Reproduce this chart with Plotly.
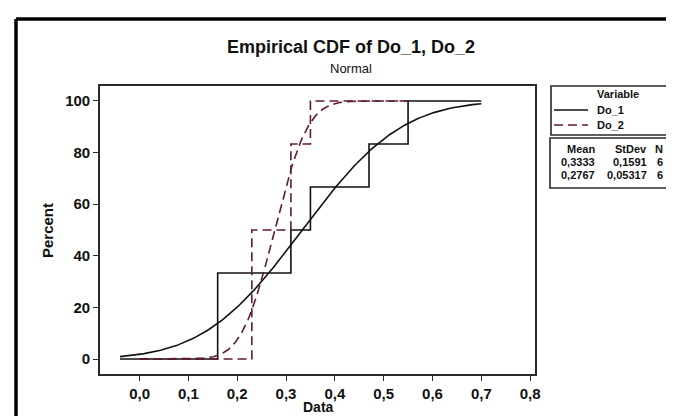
import math
import plotly.graph_objects as go

# ---------------- data ----------------
series_names = ["Do_1", "Do_2"]
do_1 = [0.16, 0.16, 0.31, 0.35, 0.47, 0.55]
do_2 = [0.23, 0.23, 0.23, 0.31, 0.31, 0.35]
line_extent_1 = [-0.04, 0.70]
line_extent_2 = [0.0, 0.55]

x_tick_vals = [0.0, 0.1, 0.2, 0.3, 0.4, 0.5, 0.6, 0.7, 0.8]
x_tick_text = ["0,0", "0,1", "0,2", "0,3", "0,4", "0,5", "0,6", "0,7", "0,8"]
y_tick_vals = [0, 20, 40, 60, 80, 100]
y_tick_text = ["0", "20", "40", "60", "80", "100"]

# ---------------- style ----------------
FONT = "Liberation Sans, Arial, sans-serif"
C1 = "#111111"
C2 = "#5e1c2c"
AX = "#2a2a2a"

W, H = 674, 416
L, R, T, B = 92, 527, 78, 366  # plot area pixels


def px(x):
    return (x - L) / (R - L)


def py(y):
    return 1 - (y - T) / (B - T)


def ecdf_xy(data, lo, hi):
    n = len(data)
    xs, ys = [lo], [0.0]
    for v in sorted(set(data)):
        xs.append(v)
        ys.append(100.0 * sum(d <= v for d in data) / n)
    xs.append(hi)
    ys.append(100.0)
    return xs, ys


def mean_sd(data):
    m = sum(data) / len(data)
    s = math.sqrt(sum((d - m) ** 2 for d in data) / (len(data) - 1))
    return m, s


def normal_cdf_xy(data, lo, hi, n=241):
    m, s = mean_sd(data)
    xs = [lo + (hi - lo) * i / (n - 1) for i in range(n)]
    ys = [50.0 * (1 + math.erf((x - m) / (s * math.sqrt(2)))) for x in xs]
    return xs, ys


def fmt(v):
    return f"{v:.4g}".replace(".", ",")


fig = go.Figure()
dash2 = "9px,5px"
for data, ext, col, dash, name in [
    (do_1, line_extent_1, C1, "solid", series_names[0]),
    (do_2, line_extent_2, C2, dash2, series_names[1]),
]:
    fx, fy = normal_cdf_xy(data, ext[0], ext[1])
    fig.add_trace(go.Scatter(x=fx, y=fy, mode="lines", name=name,
                             line=dict(color=col, width=1.6, dash=dash),
                             showlegend=False, hoverinfo="skip"))
    sx, sy = ecdf_xy(data, ext[0], ext[1])
    fig.add_trace(go.Scatter(x=sx, y=sy, mode="lines", name=name,
                             line=dict(color=col, width=1.6, dash=dash, shape="hv"),
                             showlegend=False, hoverinfo="skip"))

axis_common = dict(showgrid=False, zeroline=False, showline=True, linecolor=AX,
                   linewidth=1.6, mirror=True, ticks="outside", ticklen=5,
                   tickwidth=1.4, tickcolor=AX,
                   tickfont=dict(family=FONT, size=15, color="#111", weight="bold"))

fig.update_layout(
    width=W, height=H,
    margin=dict(l=L, r=W - R, t=T, b=H - B, autoexpand=False),
    paper_bgcolor="white", plot_bgcolor="white",
    xaxis=dict(range=[-0.081, 0.810], tickvals=x_tick_vals, ticktext=x_tick_text,
               **axis_common),
    yaxis=dict(range=[-5.8, 105.8], tickvals=y_tick_vals, ticktext=y_tick_text,
               **axis_common),
    showlegend=False,
)

ann = []


def text(x, y, s, size=11, bold=True, xanchor="center", angle=0, color="#111"):
    ann.append(dict(x=px(x), y=py(y), xref="paper", yref="paper", text=s,
                    showarrow=False, xanchor=xanchor, yanchor="middle",
                    textangle=angle,
                    font=dict(family=FONT, size=size, color=color,
                              weight="bold" if bold else "normal")))


# titles
text(343, 39, "Empirical CDF of Do_1, Do_2", size=18)
text(343, 60, "Normal", size=13, bold=False)
text(310, 399, "Data", size=14)
text(39, 223, "Percent", size=15, angle=-90)

# legend: Variable box
text(610, 86, "Variable", size=11)
text(587, 102, series_names[0], size=11, xanchor="left")
text(587, 117, series_names[1], size=11, xanchor="left")

# stats box
m1, s1 = mean_sd(do_1)
m2, s2 = mean_sd(do_2)
text(589, 141, "Mean", size=11, xanchor="right")
text(641, 141, "StDev", size=11, xanchor="right")
text(657, 141, "N", size=11, xanchor="right")
for yy, (m, s, n) in zip([154, 167], [(m1, s1, len(do_1)), (m2, s2, len(do_2))]):
    text(589, yy, fmt(m), size=11, xanchor="right")
    text(641, yy, fmt(s), size=11, xanchor="right")
    text(657, yy, str(n), size=11, xanchor="right")

fig.update_layout(annotations=ann)

shapes = []
# legend boxes
shapes.append(dict(type="rect", xref="paper", yref="paper", x0=px(543), x1=px(665),
                   y0=py(127), y1=py(78), line=dict(color=AX, width=1.6)))
shapes.append(dict(type="rect", xref="paper", yref="paper", x0=px(542), x1=px(666),
                   y0=py(180), y1=py(130), line=dict(color=AX, width=1.6)))
# legend sample lines
shapes.append(dict(type="line", xref="paper", yref="paper", x0=px(546), x1=px(580),
                   y0=py(102), y1=py(102), line=dict(color=C1, width=1.6)))
shapes.append(dict(type="line", xref="paper", yref="paper", x0=px(546), x1=px(580),
                   y0=py(117), y1=py(117), line=dict(color=C2, width=1.6, dash=dash2)))
# outer frame (top and left edges)
shapes.append(dict(type="line", xref="paper", yref="paper", x0=px(8), x1=px(690),
                   y0=py(11), y1=py(11), line=dict(color="#000", width=3.5)))
shapes.append(dict(type="line", xref="paper", yref="paper", x0=px(8), x1=px(8),
                   y0=py(11), y1=py(430), line=dict(color="#000", width=3.5)))
fig.update_layout(shapes=shapes)

fig.write_html("out.html")
